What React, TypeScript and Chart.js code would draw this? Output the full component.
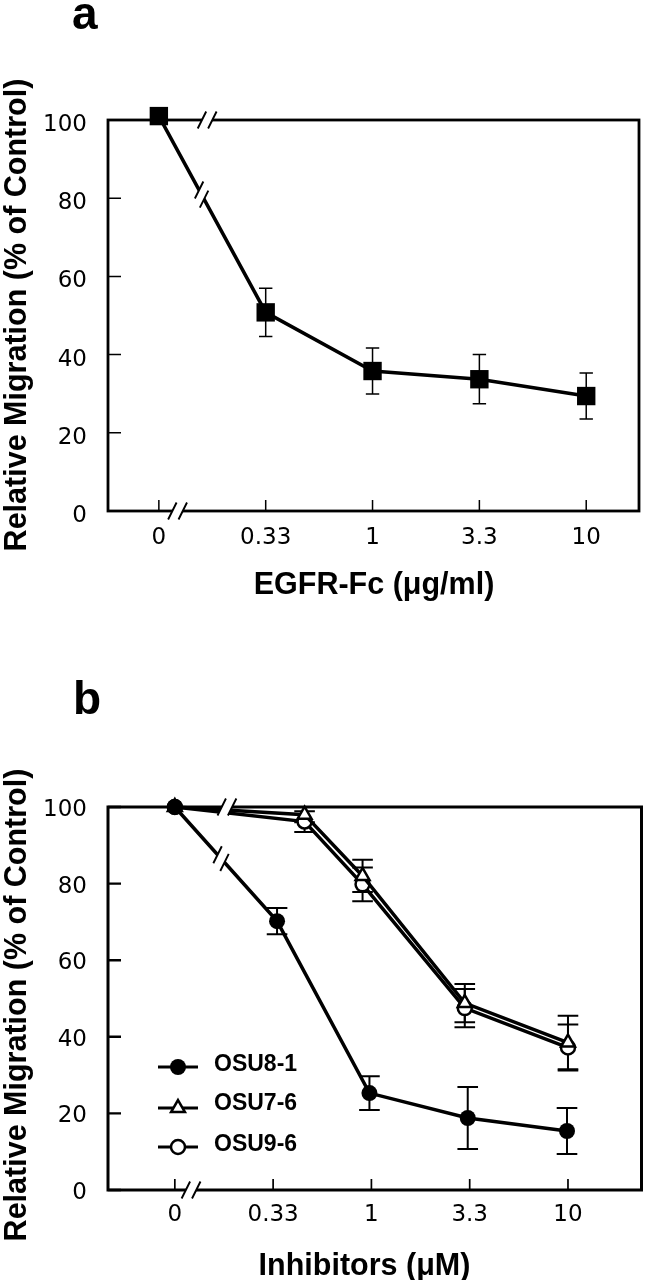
import React, { useEffect, useRef } from 'react';
import { Chart, registerables } from 'chart.js';

Chart.register(...registerables);

// ---------- data ----------
const xTickValues = [0, 1, 2, 3, 4];
const doseLabels = ['0', '0.33', '1', '3.3', '10'];
const yTickValues = [0, 20, 40, 60, 80, 100];

// Panel a: EGFR-Fc
const egfrX = [0, 1, 2, 3, 4];
const egfrY = [101, 50.8, 35.8, 33.7, 29.4];
const egfrErr = [0, 6.2, 5.9, 6.3, 5.9];

// Panel b: inhibitors
const osu81X = [0, 1.04, 1.98, 2.98, 3.99];
const osu81Y = [100, 70.2, 25.3, 18.8, 15.4];
const osu81Err = [0, 3.4, 4.4, 8.1, 6.0];

const osu76X = [0, 1.32, 1.91, 2.95, 4.0];
const osu76Y = [100, 98, 82, 48.8, 38.5];
const osu76Err = [0, 2, 4.2, 5, 7];

const osu96X = [0, 1.32, 1.91, 2.95, 4.0];
const osu96Y = [100, 96.2, 79.8, 47.5, 37.2];
const osu96Err = [0, 2.7, 4.4, 5, 6];

const seriesNamesB = ['OSU8-1', 'OSU7-6', 'OSU9-6'];

const Y_TITLE = 'Relative Migration (% of Control)';
const TITLE_FONT = 'bold 30.5px "Liberation Sans", Arial, Helvetica, sans-serif';
const TICK_FONT = { family: '"DejaVu Sans", "Liberation Sans", sans-serif', size: 23 };

const toPts = (xs: number[], ys: number[]) => xs.map((x, i) => ({ x, y: ys[i] }));

// ---------- drawing helpers ----------
function drawBreak(ctx: CanvasRenderingContext2D, cx: number, cy: number, dx: number, dy: number) {
  const sx = 0.445, sy = -0.895;
  const A = 5.2, H = 9.5;
  const p = (sa: number, sh: number) => [cx + sa * A * dx + sh * H * sx, cy + sa * A * dy + sh * H * sy];
  const a1 = p(-1, -1), a2 = p(-1, 1), b1 = p(1, -1), b2 = p(1, 1);
  ctx.save();
  ctx.fillStyle = '#fff';
  ctx.beginPath();
  ctx.moveTo(a1[0], a1[1]);
  ctx.lineTo(a2[0], a2[1]);
  ctx.lineTo(b2[0], b2[1]);
  ctx.lineTo(b1[0], b1[1]);
  ctx.closePath();
  ctx.fill();
  ctx.strokeStyle = '#000';
  ctx.lineWidth = 1.9;
  ctx.beginPath();
  ctx.moveTo(a1[0], a1[1]);
  ctx.lineTo(a2[0], a2[1]);
  ctx.moveTo(b1[0], b1[1]);
  ctx.lineTo(b2[0], b2[1]);
  ctx.stroke();
  ctx.restore();
}

type Panel = {
  key: string;
  label: string;
  labelPos: [number, number];
  area: { left: number; right: number; top: number; bottom: number };
  xMin: number;
  xMax: number;
  xTitle: string;
  xTitlePos: [number, number];
  yTitlePos: [number, number];
  xLabelPad: number;
  yLabelOffset: number;
  datasets: any[];
  errors: number[][];
  axisBreaks: { edge: 'top' | 'bottom'; x: number }[];
  lineBreaks: { ds: number; seg: number; x: number }[];
  capHalf: number;
  errWidth: number;
  xTickWidth: number;
  yTickWidth: number;
  boxWidth: number;
  legend?: { names: string[]; lineY: number[]; textY: number[] };
};

function makePlugin(p: Panel) {
  return {
    id: 'decor' + p.key,
    beforeDatasetsDraw(chart: any) {
      const { ctx, chartArea: a, scales } = chart;
      const x = scales.x, y = scales.y;
      ctx.save();
      ctx.strokeStyle = '#000';
      // inward ticks
      ctx.lineWidth = p.xTickWidth;
      ctx.beginPath();
      for (const v of xTickValues) {
        const px = x.getPixelForValue(v);
        ctx.moveTo(px, a.bottom);
        ctx.lineTo(px, a.bottom - 11);
      }
      ctx.stroke();
      ctx.lineWidth = p.yTickWidth;
      ctx.beginPath();
      for (const v of yTickValues) {
        const py = y.getPixelForValue(v);
        ctx.moveTo(a.left, py);
        ctx.lineTo(a.left + 13, py);
      }
      ctx.stroke();
      // frame
      ctx.lineWidth = p.boxWidth;
      ctx.strokeRect(a.left, a.top, a.right - a.left, a.bottom - a.top);
      // error bars
      ctx.lineWidth = p.errWidth;
      p.errors.forEach((errs, di) => {
        const meta = chart.getDatasetMeta(di);
        const data = chart.data.datasets[di].data;
        errs.forEach((e, i) => {
          if (!e) return;
          const px = meta.data[i].x;
          const t = y.getPixelForValue(data[i].y + e);
          const b = y.getPixelForValue(data[i].y - e);
          ctx.beginPath();
          ctx.moveTo(px, t);
          ctx.lineTo(px, b);
          ctx.moveTo(px - p.capHalf, t);
          ctx.lineTo(px + p.capHalf, t);
          ctx.moveTo(px - p.capHalf, b);
          ctx.lineTo(px + p.capHalf, b);
          ctx.stroke();
        });
      });
      ctx.restore();
    },
    afterDatasetsDraw(chart: any) {
      const { ctx, chartArea: a, scales } = chart;
      for (const br of p.axisBreaks) {
        const px = scales.x.getPixelForValue(br.x);
        drawBreak(ctx, px, br.edge === 'top' ? a.top : a.bottom, 1, 0);
      }
      for (const lb of p.lineBreaks) {
        const meta = chart.getDatasetMeta(lb.ds);
        const p0 = meta.data[lb.seg], p1 = meta.data[lb.seg + 1];
        const px = scales.x.getPixelForValue(lb.x);
        const t = (px - p0.x) / (p1.x - p0.x);
        const py = p0.y + t * (p1.y - p0.y);
        const len = Math.hypot(p1.x - p0.x, p1.y - p0.y);
        drawBreak(ctx, px, py, (p1.x - p0.x) / len, (p1.y - p0.y) / len);
      }
    },
    afterDraw(chart: any) {
      const { ctx } = chart;
      ctx.save();
      ctx.fillStyle = '#000';
      // panel letter
      ctx.font = 'bold 46px "Liberation Sans", Arial, sans-serif';
      ctx.textAlign = 'left';
      ctx.textBaseline = 'alphabetic';
      ctx.fillText(p.label, p.labelPos[0], p.labelPos[1]);
      // axis titles
      ctx.font = TITLE_FONT;
      ctx.textAlign = 'center';
      ctx.fillText(p.xTitle, p.xTitlePos[0], p.xTitlePos[1]);
      ctx.save();
      ctx.translate(p.yTitlePos[0], p.yTitlePos[1]);
      ctx.rotate(-Math.PI / 2);
      ctx.fillText(Y_TITLE, 0, 0);
      ctx.restore();
      // legend
      if (p.legend) {
        const L = p.legend;
        L.names.forEach((name, i) => {
          const ly = L.lineY[i];
          ctx.strokeStyle = '#000';
          ctx.lineWidth = 3;
          ctx.beginPath();
          ctx.moveTo(158, ly);
          ctx.lineTo(198, ly);
          ctx.stroke();
          const ds = chart.data.datasets[i];
          const r = ds.pointRadius;
          ctx.beginPath();
          if (ds.pointStyle === 'triangle') {
            let rad = 0;
            ctx.moveTo(178 + Math.sin(rad) * r, ly - Math.cos(rad) * r);
            rad += (2 * Math.PI) / 3;
            ctx.lineTo(178 + Math.sin(rad) * r, ly - Math.cos(rad) * r);
            rad += (2 * Math.PI) / 3;
            ctx.lineTo(178 + Math.sin(rad) * r, ly - Math.cos(rad) * r);
            ctx.closePath();
          } else {
            ctx.arc(178, ly, r, 0, Math.PI * 2);
          }
          ctx.fillStyle = ds.pointBackgroundColor;
          ctx.fill();
          if (ds.pointBorderWidth) {
            ctx.lineWidth = ds.pointBorderWidth;
            ctx.stroke();
          }
          ctx.fillStyle = '#000';
          ctx.font = 'bold 23px "Liberation Sans", Arial, sans-serif';
          ctx.textAlign = 'left';
          ctx.textBaseline = 'middle';
          ctx.fillText(name, 214, L.textY[i]);
        });
      }
      ctx.restore();
    },
  };
}

function makeConfig(p: Panel): any {
  return {
    type: 'line',
    data: { datasets: p.datasets },
    options: {
      responsive: false,
      animation: false,
      devicePixelRatio: 1,
      events: [],
      layout: { padding: { left: 0, right: 652 - p.area.right, top: p.area.top, bottom: 0 } },
      plugins: { legend: { display: false }, tooltip: { enabled: false }, title: { display: false } },
      elements: { line: { tension: 0 } },
      scales: {
        x: {
          type: 'linear',
          min: p.xMin,
          max: p.xMax,
          grid: { display: false },
          border: { display: false },
          afterBuildTicks: (s: any) => {
            s.ticks = xTickValues.map((v) => ({ value: v }));
          },
          afterFit: (s: any) => {
            s.height = 640 - p.area.bottom;
          },
          ticks: {
            autoSkip: false,
            maxRotation: 0,
            padding: p.xLabelPad,
            color: '#000',
            font: TICK_FONT,
            callback: (_v: any, i: number) => doseLabels[i],
          },
        },
        y: {
          type: 'linear',
          min: 0,
          max: 100,
          grid: { display: false },
          border: { display: false },
          afterBuildTicks: (s: any) => {
            s.ticks = yTickValues.map((v) => ({ value: v }));
          },
          afterFit: (s: any) => {
            s.width = p.area.left;
          },
          ticks: { padding: 13, labelOffset: p.yLabelOffset, color: '#000', font: TICK_FONT },
        },
      },
    },
    plugins: [makePlugin(p)],
  };
}

const panelA: Panel = {
  key: 'a',
  label: 'a',
  labelPos: [72, 29],
  area: { left: 108, right: 641, top: 120, bottom: 511 },
  xMin: -0.476,
  xMax: 4.494,
  xTitle: 'EGFR-Fc (\u03BCg/ml)',
  xTitlePos: [374, 594],
  yTitlePos: [26, 315],
  xLabelPad: 5,
  yLabelOffset: 5,
  datasets: [
    {
      label: 'EGFR-Fc',
      data: toPts(egfrX, egfrY),
      borderColor: '#000',
      borderWidth: 3.5,
      pointStyle: 'rect',
      pointRadius: 13,
      pointBackgroundColor: '#000',
      pointBorderColor: '#000',
      pointBorderWidth: 0,
      clip: false,
    },
  ],
  errors: [egfrErr],
  axisBreaks: [
    { edge: 'bottom', x: 0.175 },
    { edge: 'top', x: 0.452 },
  ],
  lineBreaks: [{ ds: 0, seg: 0, x: 0.4 }],
  capHalf: 6.7,
  errWidth: 1.5,
  xTickWidth: 1.5,
  yTickWidth: 1.5,
  boxWidth: 2.8,
};

const panelB: Panel = {
  key: 'b',
  label: 'b',
  labelPos: [73, 74],
  area: { left: 108, right: 643, top: 167, bottom: 550 },
  xMin: -0.68,
  xMax: 4.748,
  xTitle: 'Inhibitors (\u03BCM)',
  xTitlePos: [364.5, 635],
  yTitlePos: [26, 365],
  xLabelPad: 3,
  yLabelOffset: 3,
  datasets: [
    {
      label: seriesNamesB[0],
      data: toPts(osu81X, osu81Y),
      borderColor: '#000',
      borderWidth: 3.5,
      pointStyle: 'circle',
      pointRadius: 8,
      pointBackgroundColor: '#000',
      pointBorderColor: '#000',
      pointBorderWidth: 0,
      clip: false,
    },
    {
      label: seriesNamesB[1],
      data: toPts(osu76X, osu76Y),
      borderColor: '#000',
      borderWidth: 3.5,
      pointStyle: 'triangle',
      pointRadius: 8,
      pointBackgroundColor: '#fff',
      pointBorderColor: '#000',
      pointBorderWidth: 2.5,
      clip: false,
    },
    {
      label: seriesNamesB[2],
      data: toPts(osu96X, osu96Y),
      borderColor: '#000',
      borderWidth: 3.5,
      pointStyle: 'circle',
      pointRadius: 7,
      pointBackgroundColor: '#fff',
      pointBorderColor: '#000',
      pointBorderWidth: 2.5,
      clip: false,
    },
  ],
  errors: [osu81Err, osu76Err, osu96Err],
  axisBreaks: [
    { edge: 'bottom', x: 0.165 },
    { edge: 'top', x: 0.53 },
  ],
  lineBreaks: [{ ds: 0, seg: 0, x: 0.47 }],
  capHalf: 10.3,
  errWidth: 2,
  xTickWidth: 1.7,
  yTickWidth: 2.4,
  boxWidth: 3,
  legend: { names: seriesNamesB, lineY: [427, 468, 507], textY: [425, 464, 505] },
};

function PanelChart({ panel }: { panel: Panel }) {
  const ref = useRef<HTMLCanvasElement>(null);
  useEffect(() => {
    const chart = new Chart(ref.current as HTMLCanvasElement, makeConfig(panel));
    return () => chart.destroy();
  }, [panel]);
  return <canvas ref={ref} width={652} height={640} style={{ display: 'block', width: 652, height: 640 }} />;
}

export default function App() {
  return (
    <div style={{ position: 'absolute', left: 0, top: 0, width: 652, height: 1280, background: '#fff' }}>
      <PanelChart panel={panelA} />
      <PanelChart panel={panelB} />
    </div>
  );
}
